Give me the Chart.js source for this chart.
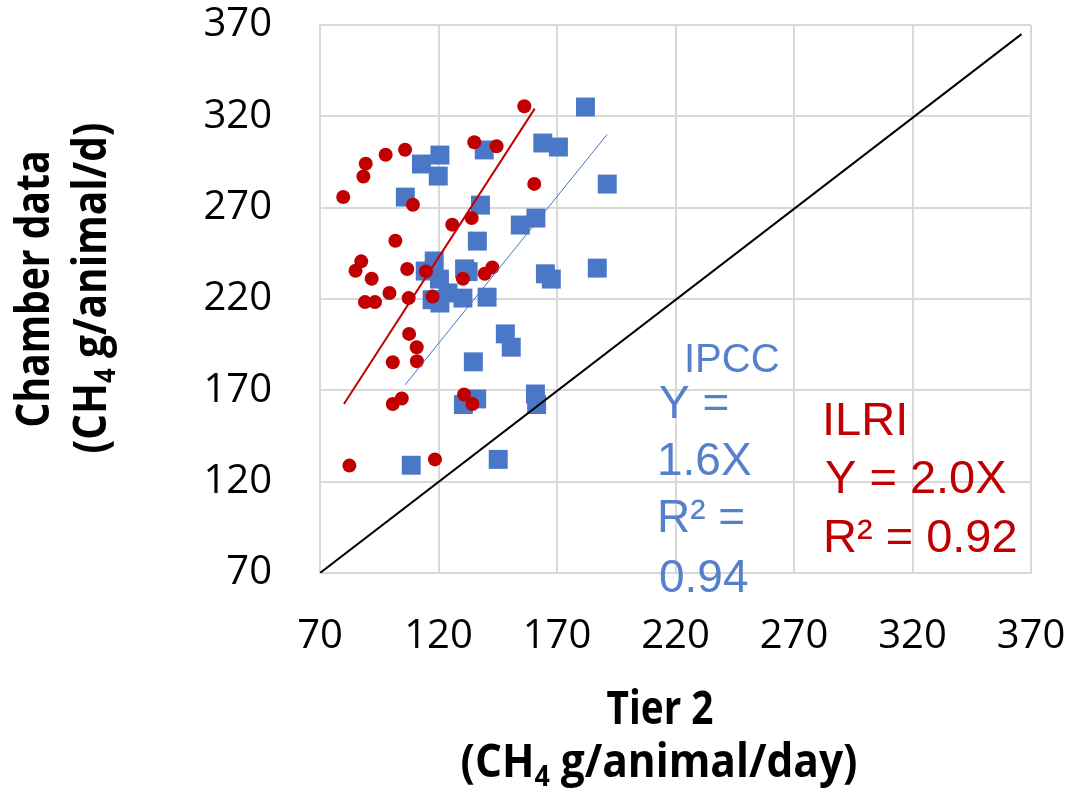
<!DOCTYPE html>
<html>
<head>
<meta charset="utf-8">
<script src="https://cdn.jsdelivr.net/npm/chart.js@4.4.0/dist/chart.umd.min.js"></script>
<style>
html, body { margin: 0; padding: 0; background: #fff; }
</style>
</head>
<body>
<canvas id="myChart" width="1073" height="790"></canvas>
<script>
// ILRI (red circles) - Tier 2 vs chamber data
var ilriX = [156.2, 135.1, 144.5, 105.9, 97.7, 89.3, 88.3, 79.8, 160.4, 109.2, 134, 125.8, 101.8, 87.4, 85, 91.8, 106.8, 114.7,
             130.3, 139.5, 142.7, 99.3, 89, 93.2, 107.4, 117.5, 107.6, 110.8, 100.7, 110.9, 104.5, 100.7, 130.8, 134.3, 82.4, 118.5];
var ilriY = [325.5, 305.8, 303.6, 301.7, 299, 294.1, 287.1, 275.8, 283, 271.6, 264.3, 260.7, 251.9, 240.6, 235.5, 231.1, 236.4, 235.1,
             231.1, 233.8, 237.3, 223.3, 218.3, 218.3, 220.5, 221.4, 200.9, 193.6, 185.4, 185.9, 165.5, 162.5, 167.7, 162.5, 128.8, 132.2];

// IPCC (blue squares)
var ipccX = [182, 164, 170.6, 139.3, 120.6, 112.8, 119.9, 191.2, 106, 137.7, 161.1, 154.5, 136.4, 118.2, 114.4, 120.4, 131, 132.5,
             165.1, 167.6, 187, 124, 130.3, 140.5, 117.3, 120.6, 148.2, 150.7, 134.7, 160.9, 161.4, 136.1, 130.5, 145.2, 108.5];
var ipccY = [325.1, 305.4, 303.2, 301.6, 298.8, 293.9, 287.3, 282.9, 275.8, 271.4, 264.3, 260.5, 251.7, 240.8, 235.3, 230.9, 236.5, 235,
             233.8, 230.9, 236.9, 223.3, 220.5, 221, 219.6, 217.8, 200.9, 193.6, 185.6, 168, 162.2, 165.3, 162.2, 132.2, 129];

// fitted lines (end points) and 1:1 line
var ilriFitX = [80.1, 160.6];
var ilriFitY = [162.5, 324.2];
var ipccFitX = [105.9, 191.1];
var ipccFitY = [173, 310];
var oneToOneX = [70, 366];
var oneToOneY = [70, 365];

var axisMin = 70;
var axisMax = 370;
var axisStep = 50;

function toPoints(xs, ys) {
    return xs.map(function (x, i) { return { x: x, y: ys[i] }; });
}

// draws a bold line of text with a subscript part, centred on (cx, cy),
// squeezed sideways to the given width (the original font is narrow)
function drawRich(ctx, parts, cx, cy, size, width) {
    var total = 0;
    parts.forEach(function (p) {
        ctx.font = 'bold ' + (p.sub ? Math.round(size * 0.62) : size) + 'px "Open Sans"';
        p.w = ctx.measureText(p.t).width;
        total += p.w;
    });
    var k = width / total;
    ctx.save();
    ctx.translate(cx - width / 2, cy);
    ctx.scale(k, 1);
    var x = 0;
    parts.forEach(function (p) {
        ctx.font = 'bold ' + (p.sub ? Math.round(size * 0.62) : size) + 'px "Open Sans"';
        ctx.fillText(p.t, x, p.sub ? size * 0.3 : 0);
        x += p.w;
    });
    ctx.restore();
}

var textPlugin = {
    id: 'textPlugin',
    afterDraw: function (chart) {
        var ctx = chart.ctx;
        ctx.save();
        ctx.fillStyle = '#000';
        ctx.textAlign = 'left';
        ctx.textBaseline = 'middle';

        // x title
        drawRich(ctx, [{ t: 'Tier 2' }], 660, 711, 46, 107);
        drawRich(ctx, [{ t: '(CH' }, { t: '4', sub: true }, { t: ' g/animal/day)' }], 659, 764, 46, 397);

        // y title
        ctx.save();
        ctx.translate(36, 289);
        ctx.rotate(-Math.PI / 2);
        drawRich(ctx, [{ t: 'Chamber data' }], 0, 0, 46, 277);
        ctx.restore();
        ctx.save();
        ctx.translate(93, 288);
        ctx.rotate(-Math.PI / 2);
        drawRich(ctx, [{ t: '(CH' }, { t: '4', sub: true }, { t: ' g/animal/d)' }], 0, 0, 46, 331);
        ctx.restore();

        // equations
        ctx.textBaseline = 'alphabetic';
        ctx.fillStyle = '#5580CC';
        ctx.font = '40px "Liberation Sans"';
        ctx.fillText('IPCC', 684, 372);
        ctx.font = '46px "Liberation Sans"';
        ctx.fillText('Y =', 659, 418);
        ctx.fillText('1.6X', 657, 475);
        ctx.fillText('R² =', 657, 532);
        ctx.fillText('0.94', 659, 592);

        ctx.fillStyle = '#C00000';
        ctx.font = '47px "Liberation Sans"';
        ctx.fillText('ILRI', 822, 435);
        ctx.fillText('Y = 2.0X', 825, 493);
        ctx.fillText('R² = 0.92', 823, 552);
        ctx.restore();
    }
};

var ctx = document.getElementById('myChart').getContext('2d');

var myChart = new Chart(ctx, {
    type: 'scatter',
    data: {
        datasets: [{
            label: '1:1',
            data: toPoints(oneToOneX, oneToOneY),
            showLine: true,
            borderColor: '#000000',
            borderWidth: 2,
            pointRadius: 0
        }, {
            label: 'ILRI fit',
            data: toPoints(ilriFitX, ilriFitY),
            showLine: true,
            borderColor: '#C00000',
            borderWidth: 2,
            pointRadius: 0
        }, {
            label: 'IPCC fit',
            data: toPoints(ipccFitX, ipccFitY),
            showLine: true,
            borderColor: '#4472C4',
            borderWidth: 1,
            pointRadius: 0
        }, {
            label: 'ILRI',
            data: toPoints(ilriX, ilriY),
            pointStyle: 'circle',
            pointRadius: 7,
            backgroundColor: '#C00000',
            borderColor: '#C00000',
            borderWidth: 0
        }, {
            label: 'IPCC',
            data: toPoints(ipccX, ipccY),
            pointStyle: 'rect',
            pointRadius: 13.4,
            backgroundColor: '#4A78C6',
            borderColor: '#4A78C6',
            borderWidth: 0
        }]
    },
    options: {
        responsive: false,
        animation: false,
        devicePixelRatio: 1,
        layout: { padding: { top: 25, right: 42, left: 0, bottom: 0 } },
        plugins: {
            legend: { display: false },
            tooltip: { enabled: false }
        },
        scales: {
            x: {
                type: 'linear',
                min: axisMin,
                max: axisMax,
                afterFit: function (s) {
                    s.height = 217;
                    s.paddingLeft = 0;
                    s.paddingRight = 0;
                },
                ticks: {
                    stepSize: axisStep,
                    color: '#000',
                    padding: 40,
                    font: { family: 'Open Sans', size: 40 }
                },
                grid: { color: '#D9D9D9', lineWidth: 2, drawTicks: false },
                border: { display: true, color: '#D9D9D9', width: 2 }
            },
            y: {
                type: 'linear',
                min: axisMin,
                max: axisMax,
                afterFit: function (s) {
                    s.width = 320;
                    s.paddingTop = 0;
                    s.paddingBottom = 0;
                },
                ticks: {
                    stepSize: axisStep,
                    color: '#000',
                    padding: 48,
                    font: { family: 'Open Sans', size: 40 }
                },
                grid: { color: '#D9D9D9', lineWidth: 2, drawTicks: false },
                border: { display: true, color: '#D9D9D9', width: 2 }
            }
        }
    },
    plugins: [textPlugin]
});
</script>
</body>
</html>
